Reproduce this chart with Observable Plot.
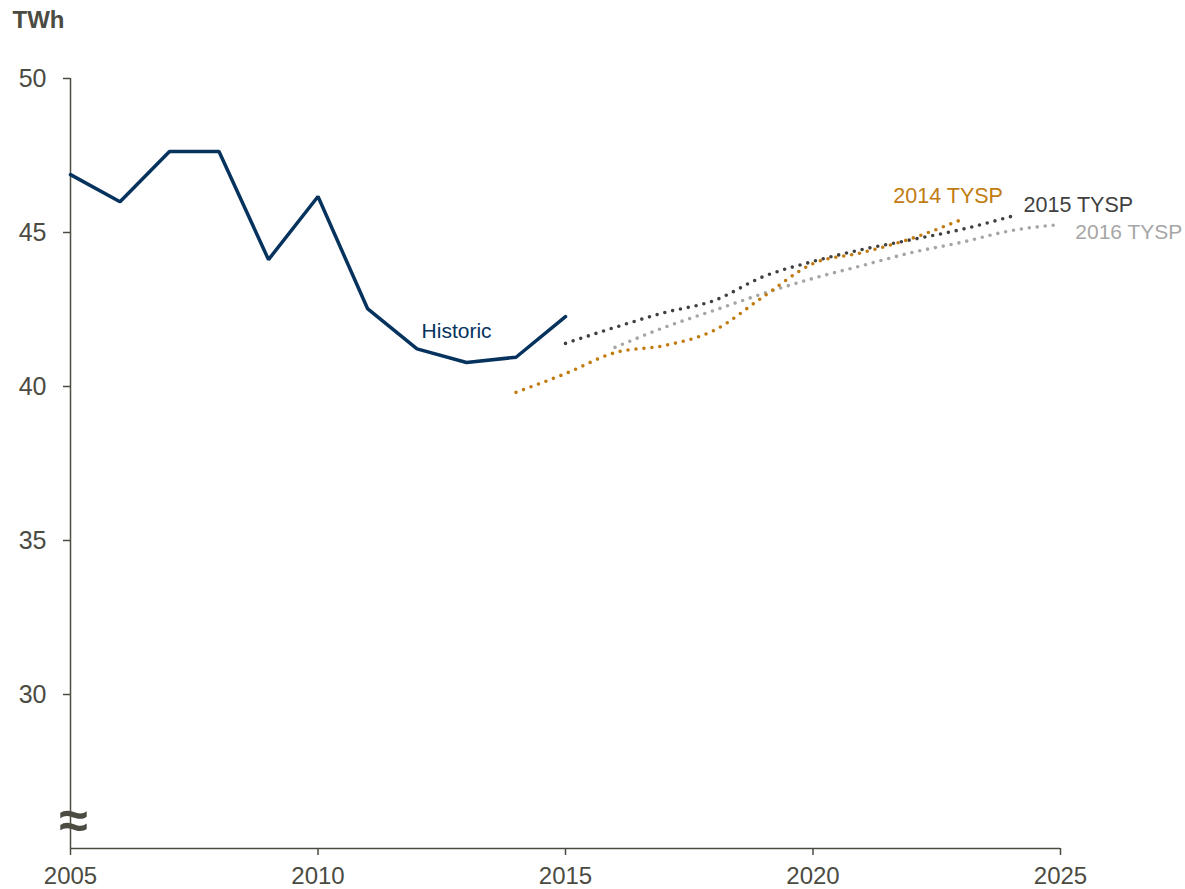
<!DOCTYPE html>
<html>
<head>
<meta charset="utf-8">
<script src="https://cdn.jsdelivr.net/npm/d3@7"></script>
<script src="https://cdn.jsdelivr.net/npm/@observablehq/plot@0.6"></script>
<style>
  html, body { margin: 0; padding: 0; background: #fff; }
  #chart { position: relative; width: 1185px; height: 889px; }
</style>
</head>
<body>
<div id="chart"></div>
<script>
// ---- Data ----
const historicYears = [2005, 2006, 2007, 2008, 2009, 2010, 2011, 2012, 2013, 2014, 2015];
const historicValues = [46.88, 46.0, 47.63, 47.63, 44.12, 46.17, 42.53, 41.22, 40.78, 40.95, 42.27];

const tysp2014Years = [2014, 2015, 2016, 2017, 2018, 2019, 2020, 2021, 2022, 2023];
const tysp2014Values = [39.81, 40.42, 41.10, 41.33, 41.82, 42.92, 43.99, 44.35, 44.81, 45.42];

const tysp2015Years = [2015, 2016, 2017, 2018, 2019, 2020, 2021, 2022, 2023, 2024];
const tysp2015Values = [41.40, 41.92, 42.40, 42.79, 43.57, 44.06, 44.45, 44.77, 45.10, 45.52];

const tysp2016Years = [2016, 2017, 2018, 2019, 2020, 2021, 2022, 2023, 2024, 2025];
const tysp2016Values = [41.27, 41.92, 42.47, 43.02, 43.51, 43.93, 44.35, 44.68, 45.06, 45.26];

const xTicks = [2005, 2010, 2015, 2020, 2025];
const yTicks = [30, 35, 40, 45, 50];

const unitLabel = "TWh";
const seriesLabels = ["Historic", "2014 TYSP", "2015 TYSP", "2016 TYSP"];

// ---- Build tables ----
const toRows = (xs, ys) => xs.map((x, i) => ({x, y: ys[i]}));
const historic = toRows(historicYears, historicValues);
const t2014 = toRows(tysp2014Years, tysp2014Values);
const t2015 = toRows(tysp2015Years, tysp2015Values);
const t2016 = toRows(tysp2016Years, tysp2016Values);

const axisColor = "#4b4b42";
const navy = "#06335e";
const orange = "#c27b0f";
const darkGray = "#404040";
const lightGray = "#a6a6a6";

const dotted = {strokeWidth: 3.6, strokeDasharray: "0,8", strokeLinecap: "round", curve: "monotone-x"};

const chart = Plot.plot({
  width: 1185,
  height: 889,
  marginLeft: 70,
  marginRight: 125,
  marginTop: 78,
  marginBottom: 41,
  style: {fontFamily: "'Liberation Sans', Arial, sans-serif", background: "#fff", color: axisColor},
  x: {domain: [2005, 2025]},
  y: {domain: [25, 50]},
  marks: [
    // axis lines
    Plot.ruleX([2005], {y1: 25, y2: 50, stroke: axisColor, strokeWidth: 1.5}),
    Plot.ruleY([25], {x1: 2005, x2: 2025, stroke: axisColor, strokeWidth: 1.5}),
    Plot.axisY({ticks: yTicks, tickSize: 7, tickPadding: 17, fontSize: 25, stroke: axisColor, fill: axisColor, label: null, strokeWidth: 1.5}),
    Plot.axisX({ticks: xTicks, tickSize: 7, tickPadding: 11, fontSize: 24, stroke: axisColor, fill: axisColor, label: null, tickFormat: d => String(d), strokeWidth: 1.5}),
    // axis break symbol
    Plot.text(["≈"], {x: 2005, y: 25.97, fontSize: 52, fontWeight: "bold", fill: axisColor, dx: 3, dy: 3}),
    // unit label
    Plot.text([unitLabel], {frameAnchor: "top-left", dx: -58, dy: -68, fontSize: 24, fontWeight: "bold", fill: axisColor, textAnchor: "start"}),
    // forecast series
    Plot.line(t2016, {x: "x", y: "y", stroke: lightGray, ...dotted}),
    Plot.line(t2015, {x: "x", y: "y", stroke: darkGray, ...dotted}),
    Plot.line(t2014, {x: "x", y: "y", stroke: orange, ...dotted}),
    // historic
    Plot.line(historic, {x: "x", y: "y", stroke: navy, strokeWidth: 3.5, strokeLinejoin: "miter"}),
    // labels
    Plot.text([seriesLabels[0]], {x: 2012.8, y: 41.78, fill: navy, fontSize: 21}),
    Plot.text([seriesLabels[1]], {x: 2022.73, y: 46.17, fill: orange, fontSize: 21.5}),
    Plot.text([seriesLabels[2]], {x: 2025.36, y: 45.88, fill: darkGray, fontSize: 21.5}),
    Plot.text([seriesLabels[3]], {x: 2026.38, y: 45.0, fill: lightGray, fontSize: 21})
  ]
});
document.getElementById("chart").appendChild(chart);
</script>
</body>
</html>
